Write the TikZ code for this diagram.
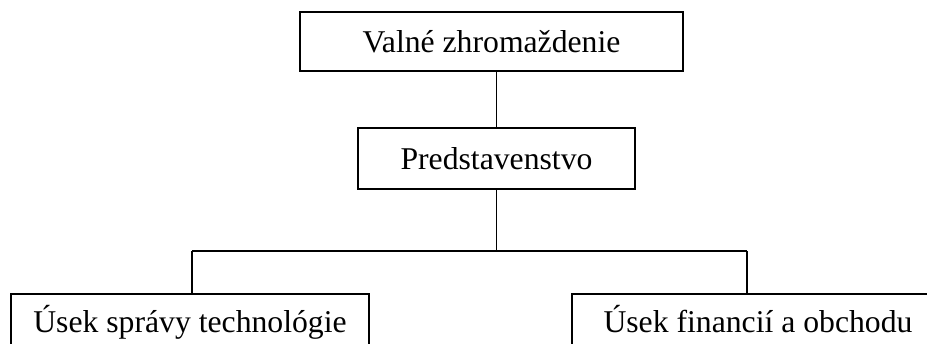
\documentclass[tikz,border=0pt]{standalone}
\usepackage{fontspec}
\setmainfont{Liberation Serif}
\begin{document}
\begin{tikzpicture}[x=1pt,y=-1pt,
  orgbox/.style={draw=black, line width=2.4pt, inner sep=0pt, fill=white,
    font=\fontsize{31.7}{38}\selectfont, text height=21pt, text depth=0pt},
  conn/.style={draw=black, line width=1.9pt}]
\useasboundingbox (0,0) rectangle (927,343);
\clip (0,0) rectangle (927,343);
\node[orgbox, minimum width=383pt, minimum height=59pt] (vz) at (491.5,41.5) {Valné zhromaždenie};
\node[orgbox, minimum width=277pt, minimum height=61pt] (ps) at (496.5,158.5) {Predstavenstvo};
\node[orgbox, minimum width=358pt, minimum height=56pt] (ls) at (190,322) {Úsek správy technológie};
\node[orgbox, minimum width=372pt, minimum height=56pt] (rs) at (758,322) {Úsek financií a obchodu};
\coordinate (jl) at (192,251);
\coordinate (jr) at (747,251);
\coordinate (jm) at (ps.south |- jl);
\draw[conn] (ps.north) -- (ps.north |- vz.south);
\draw[conn] (ps.south) -- (jm);
\draw[conn] (jl) -- (jr);
\draw[conn] (jl) -- (jl |- ls.north);
\draw[conn] (jr) -- (jr |- rs.north);
\end{tikzpicture}
\end{document}
